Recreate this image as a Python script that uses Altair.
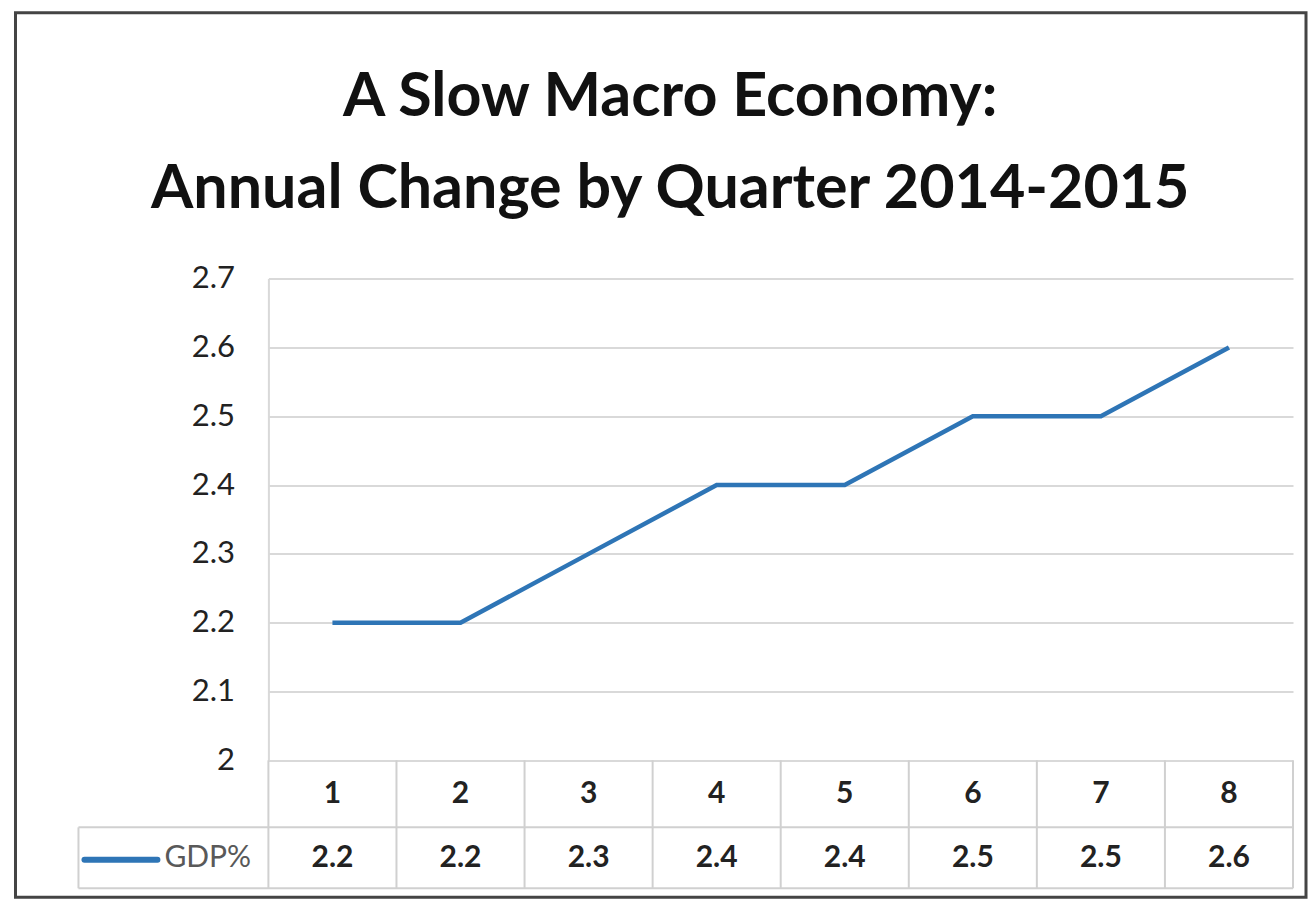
import altair as alt
import pandas as pd

# ---- data ----
quarters = [1, 2, 3, 4, 5, 6, 7, 8]
gdp = [2.2, 2.2, 2.3, 2.4, 2.4, 2.5, 2.5, 2.6]
series_name = ["GDP%"]
y_ticks = [2.0, 2.1, 2.2, 2.3, 2.4, 2.5, 2.6, 2.7]
title_line1 = ["A Slow Macro Economy:"]
title_line2 = ["Annual Change by Quarter 2014-2015"]

df = pd.DataFrame({"quarter": quarters, "gdp": gdp})
edges = pd.DataFrame({"edge": [q - 0.5 for q in quarters] + [quarters[-1] + 0.5]})
one = pd.DataFrame({"series": series_name})
t1 = pd.DataFrame({"t": title_line1})
t2 = pd.DataFrame({"t": title_line2})

W, H = 1025, 482
ROW_SEP, TABLE_BOTTOM = 549, 610
BLUE = "#2E75B6"
GRID = "#d9d9d9"
TABLE = "#d0d0d0"
FONT = "Lato"

xs = alt.Scale(domain=[0.5, 8.5], nice=False, zero=False)
X = alt.X("quarter:Q", scale=xs, axis=None)

line = alt.Chart(df).mark_line(color=BLUE, strokeWidth=4.5).encode(
    x=X,
    y=alt.Y(
        "gdp:Q",
        scale=alt.Scale(domain=[2.0, 2.7], nice=False, zero=False),
        axis=alt.Axis(
            values=y_ticks, format=".1~f", title=None, ticks=False,
            grid=True, gridColor=GRID, gridWidth=2,
            domain=True, domainColor=GRID, domainWidth=2,
            labelFont=FONT, labelFontSize=31, labelColor="#222",
            labelPadding=34,
        ),
    ),
)

qtext = alt.Chart(df).mark_text(
    font=FONT, fontSize=30, fontWeight="bold", color="#222", baseline="middle"
).encode(x=X, y=alt.value((H + ROW_SEP) / 2), text=alt.Text("quarter:N"))

vtext = alt.Chart(df).mark_text(
    font=FONT, fontSize=30, fontWeight="bold", color="#222", baseline="middle"
).encode(x=X, y=alt.value((ROW_SEP + TABLE_BOTTOM) / 2), text=alt.Text("gdp:Q", format=".1f"))

vrules = alt.Chart(edges).mark_rule(color=TABLE, strokeWidth=2).encode(
    x=alt.X("edge:Q", scale=xs, axis=None), y=alt.value(H), y2=alt.value(TABLE_BOTTOM)
)

def hrule(y, x0=0, x1=W):
    return alt.Chart(one).mark_rule(color=TABLE, strokeWidth=2).encode(
        x=alt.value(x0), x2=alt.value(x1), y=alt.value(y)
    )

h1 = hrule(ROW_SEP, -190, W)
h2 = hrule(TABLE_BOTTOM, -190, W)
lbox = alt.Chart(one).mark_rule(color=TABLE, strokeWidth=2).encode(
    x=alt.value(-190), y=alt.value(ROW_SEP), y2=alt.value(TABLE_BOTTOM)
)

swatch = alt.Chart(one).mark_rule(color=BLUE, strokeWidth=6, strokeCap="round").encode(
    x=alt.value(-184), x2=alt.value(-111), y=alt.value((ROW_SEP + TABLE_BOTTOM) / 2 + 2)
)
ltext = alt.Chart(one).mark_text(
    font=FONT, fontSize=30, color="#595959", align="left", baseline="middle"
).encode(x=alt.value(-104), y=alt.value((ROW_SEP + TABLE_BOTTOM) / 2), text="series:N")

frame = alt.Chart(one).mark_rect(fillOpacity=0, stroke="#444", strokeWidth=3).encode(
    x=alt.value(-253), x2=alt.value(1038), y=alt.value(-266), y2=alt.value(619)
)

def title_text(d, y):
    return alt.Chart(d).mark_text(
        font=FONT, fontSize=61, fontWeight="bold", color="#111",
        align="center", baseline="alphabetic",
    ).encode(x=alt.value(402), y=alt.value(y), text="t:N")

title1 = title_text(t1, -163)
title2 = title_text(t2, -71)

chart = alt.layer(
    frame, title1, title2, vrules, h1, h2, lbox, line, qtext, vtext, swatch, ltext
).properties(
    width=W,
    height=H,
    padding={"left": 5.5, "top": 2.5, "right": 0, "bottom": 0},
    background="white",
).configure_view(stroke=None)

chart.save("out.html", embed_options={"renderer": "svg", "actions": False})
